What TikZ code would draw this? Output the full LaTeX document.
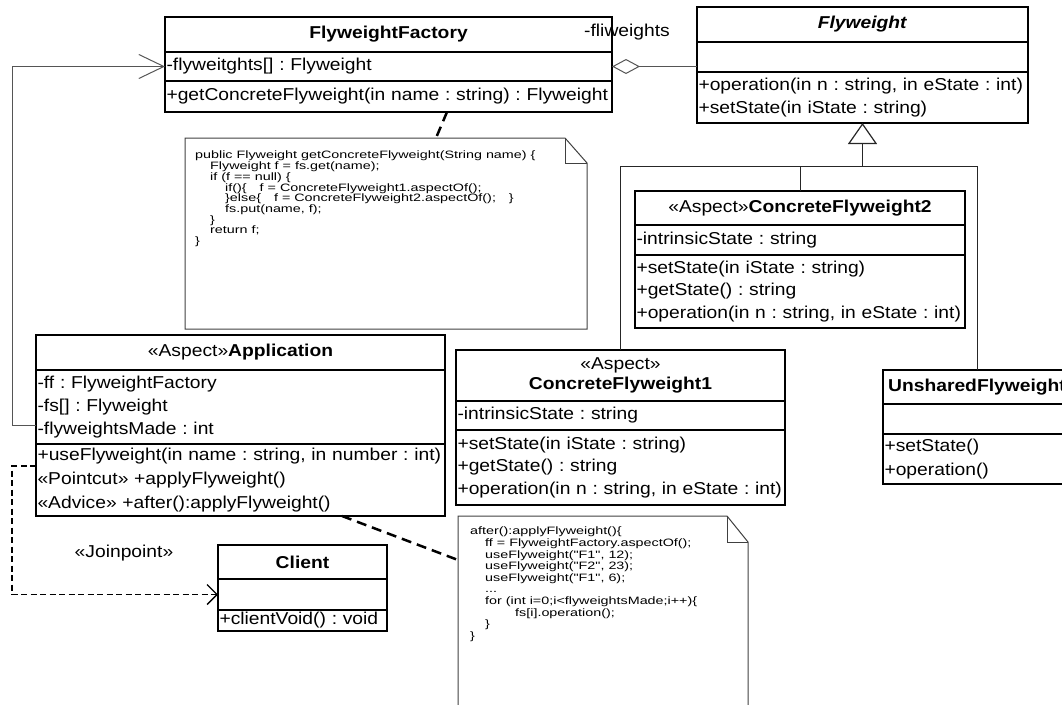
\documentclass[tikz,border=0pt]{standalone}
\usepackage{fontspec}
\setmainfont{Liberation Sans}[FakeStretch=1.12,Ligatures=NoCommon]
\newfontfamily\notefont{Liberation Sans}[FakeStretch=1.34,Ligatures=NoCommon]
\usepackage{xcolor}
\usetikzlibrary{
    arrows.meta,
    positioning
}
\definecolor{linegray}{HTML}{555555}
\frenchspacing

\tikzset{
    umlpart/.style={draw, line width=1.3pt, inner xsep=1.5pt, inner ysep=0pt, outer sep=0pt,
        font=\fontsize{17.2}{22.5}\selectfont},
    umltitle/.style={umlpart, align=center},
    umllist/.style={umlpart, align=left},
    notebox/.style={inner sep=0pt, outer sep=0pt},
    noteline/.style={draw=black!75, line width=1pt},
    notetext/.style={inner sep=0pt, align=left, font=\notefont\fontsize{10.7}{10.7}\selectfont},
    lbl/.style={inner sep=0pt, font=\fontsize{17.2}{22.5}\selectfont},
    assoc/.style={draw=linegray, line width=1pt},
    genline/.style={draw=black!85, line width=1pt},
    depend/.style={draw=black, line width=1.4pt, dash pattern=on 6pt off 3.5pt},
    noteanchor/.style={draw=black, line width=2.5pt, dash pattern=on 10pt off 6pt}
}

\begin{document}
\begin{tikzpicture}[x=1pt, y=-1pt]
    \useasboundingbox (0,0) rectangle (1062,704);
    \clip (0,0) rectangle (1062,704);

    % FlyweightFactory
    \node[umltitle, text width=444pt, minimum height=35pt, anchor=north west] (ffTitle) at (165,17) {\textbf{FlyweightFactory}};
    \node[umllist, text width=444pt, minimum height=29pt, below=0pt of ffTitle] (ffAttr) {-flyweitghts[] : Flyweight};
    \node[umllist, text width=444pt, minimum height=31pt, below=0pt of ffAttr] (ffOps) {+getConcreteFlyweight(in name : string) : Flyweight};

    % Flyweight
    \node[umltitle, text width=328pt, minimum height=35pt, anchor=north west] (fwTitle) at (697,7) {\textbf{\textit{Flyweight}}};
    \node[umllist, text width=328pt, minimum height=30pt, below=0pt of fwTitle] (fwAttr) {};
    \node[umllist, text width=328pt, minimum height=51pt, below=0pt of fwAttr] (fwOps) {+operation(in n : string, in eState : int)\\+setState(in iState : string)};

    % ConcreteFlyweight2
    \node[umltitle, text width=327pt, minimum height=34pt, anchor=north west] (cf2Title) at (635,191) {«Aspect»\textbf{ConcreteFlyweight2}};
    \node[umllist, text width=327pt, minimum height=30pt, below=0pt of cf2Title] (cf2Attr) {-intrinsicState : string};
    \node[umllist, text width=327pt, minimum height=73pt, below=0pt of cf2Attr] (cf2Ops) {+setState(in iState : string)\\+getState() : string\\+operation(in n : string, in eState : int)};

    % ConcreteFlyweight1
    \node[umltitle, text width=326pt, minimum height=51pt, anchor=north west, font=\fontsize{17.2}{19.5}\selectfont] (cf1Title) at (456,350) {«Aspect»\\\textbf{ConcreteFlyweight1}};
    \node[umllist, text width=326pt, minimum height=29pt, below=0pt of cf1Title] (cf1Attr) {-intrinsicState : string};
    \node[umllist, text width=326pt, minimum height=75pt, below=0pt of cf1Attr] (cf1Ops) {+setState(in iState : string)\\+getState() : string\\+operation(in n : string, in eState : int)};

    % UnsharedFlyweight
    \node[umltitle, text width=185pt, minimum height=34pt, anchor=north west] (unTitle) at (883,370) {\textbf{UnsharedFlyweight}};
    \node[umllist, text width=185pt, minimum height=30pt, below=0pt of unTitle] (unAttr) {};
    \node[umllist, text width=185pt, minimum height=50pt, below=0pt of unAttr, font=\fontsize{17.2}{23.5}\selectfont] (unOps) {+setState()\\+operation()};

    % Application
    \node[umltitle, text width=406pt, minimum height=35pt, anchor=north west] (appTitle) at (36,335) {«Aspect»\textbf{Application}};
    \node[umllist, text width=406pt, minimum height=74pt, below=0pt of appTitle, font=\fontsize{17.2}{23}\selectfont] (appAttr) {-ff : FlyweightFactory\\-fs[] : Flyweight\\-flyweightsMade : int};
    \node[umllist, text width=406pt, minimum height=72pt, below=0pt of appAttr, font=\fontsize{17.2}{24}\selectfont] (appOps) {+useFlyweight(in name : string, in number : int)\\«Pointcut» +applyFlyweight()\\«Advice» +after():applyFlyweight()};

    % Client
    \node[umltitle, text width=166pt, minimum height=34pt, anchor=north west] (clTitle) at (218,545) {\textbf{Client}};
    \node[umllist, text width=166pt, minimum height=31pt, below=0pt of clTitle] (clAttr) {};
    \node[umllist, text width=166pt, minimum height=21pt, below=0pt of clAttr] (clOps) {+clientVoid() : void};

    % notes
    \node[notebox, minimum width=402pt, minimum height=191pt, anchor=north west] (note1) at (185,138) {};
    \draw[noteline] (note1.north west) -- ([xshift=-22pt]note1.north east) -- ([yshift=-25pt]note1.north east)
        -- (note1.south east) -- (note1.south west) -- cycle;
    \draw[noteline] ([xshift=-22pt]note1.north east) |- ([yshift=-25pt]note1.north east);
    \node[notetext, anchor=north west] (note1Code) at ([shift={(10pt,-13pt)}]note1.north west) {public Flyweight getConcreteFlyweight(String name) \{\\
        \hspace*{15pt}Flyweight f = fs.get(name);\\
        \hspace*{15pt}if (f == null) \{\\
        \hspace*{30pt}if()\{\hspace{13pt}f = ConcreteFlyweight1.aspectOf();\\
        \hspace*{30pt}\}else\{\hspace{13pt}f = ConcreteFlyweight2.aspectOf();\hspace{13pt}\}\\
        \hspace*{30pt}fs.put(name, f);\\
        \hspace*{15pt}\}\\
        \hspace*{15pt}return f;\\
        \}};

    \node[notebox, minimum width=290pt, minimum height=200pt, anchor=north west] (note2) at (458,516) {};
    \draw[noteline] (note2.north west) -- ([xshift=-21pt]note2.north east) -- ([yshift=-26pt]note2.north east)
        -- (note2.south east) -- (note2.south west) -- cycle;
    \draw[noteline] ([xshift=-21pt]note2.north east) |- ([yshift=-26pt]note2.north east);
    \node[notetext, anchor=north west, font=\notefont\fontsize{10.7}{11.6}\selectfont] (note2Code) at ([shift={(12pt,-11pt)}]note2.north west) {after():applyFlyweight()\{\\
        \hspace*{15pt}ff = FlyweightFactory.aspectOf();\\
        \hspace*{15pt}useFlyweight("F1", 12);\\
        \hspace*{15pt}useFlyweight("F2", 23);\\
        \hspace*{15pt}useFlyweight("F1", 6);\\
        \hspace*{15pt}...\\
        \hspace*{15pt}for (int i=0;i<flyweightsMade;i++)\{\\
        \hspace*{45pt}fs[i].operation();\\
        \hspace*{15pt}\}\\
        \}};

    % labels
    \node[lbl] (fliweightsLbl) at (627,32) {-fliweights};
    \node[lbl] (joinpointLbl) at (124,553) {«Joinpoint»};

    % aggregation
    \draw[assoc, {Diamond[open, length=28pt, width=15pt]}-] (ffAttr.east) -- (ffAttr.east -| fwAttr.west);

    % generalization tree
    \coordinate (genJoin) at (862.5,166);
    \draw[genline, line width=1.2pt, -{Triangle[open, length=21pt, width=29pt]}] (genJoin) -- (fwOps.south);
    \draw[genline] (cf1Title.north) |- (genJoin);
    \draw[genline] (unTitle.north) |- (genJoin);
    \draw[genline] (cf2Title.north) -- (cf2Title.north |- genJoin);

    % association and dependency
    \draw[assoc, -{Straight Barb[length=25pt, width=24pt]}] ([yshift=-18pt]appAttr.west) -- ++(-24,0) |- (ffAttr.west);
    \draw[depend, -{Straight Barb[length=10pt, width=20pt]}] ([yshift=14pt]appOps.west) -- ++(-24,0) |- (clAttr.west);

    % note anchors
    \draw[noteanchor] ([xshift=58.5pt]ffOps.south) -- ([xshift=50pt]note1.north);
    \draw[noteanchor] ([xshift=101.5pt]appOps.south) -- ([yshift=56pt]note2.west);
\end{tikzpicture}
\end{document}
